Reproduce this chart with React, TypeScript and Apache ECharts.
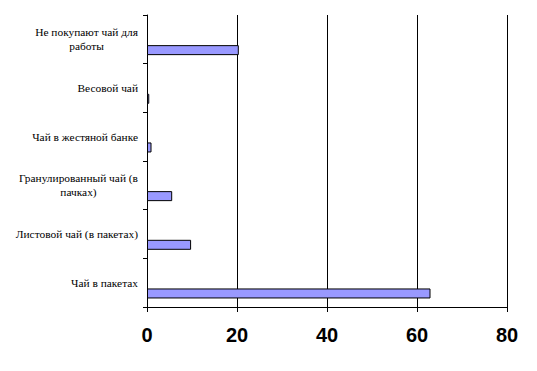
import React, { useEffect, useRef } from "react";
import * as echarts from "echarts";

const categories = [
  "Чай в пакетах",
  "Листовой чай (в пакетах)",
  "Гранулированный чай (в\nпачках)",
  "Чай в жестяной банке",
  "Весовой чай",
  "Не покупают чай для\nработы",
];
const values = [63, 9.8, 5.6, 1, 0.5, 20.4];
const emptyValues = categories.map(() => "-");
const xMin = 0;
const xMax = 80;
const xInterval = 20;

const serif = "Liberation Serif";

export default function App() {
  const ref = useRef<HTMLDivElement>(null);
  useEffect(() => {
    document.body.style.margin = "0";
    if (!ref.current) return;
    const chart = echarts.init(ref.current, undefined, { renderer: "svg" });
    chart.setOption({
      animation: false,
      backgroundColor: "#fff",
      grid: { left: 147, right: 30, top: 15, bottom: 64, containLabel: false },
      xAxis: {
        type: "value",
        min: xMin,
        max: xMax,
        interval: xInterval,
        axisLine: { show: true, lineStyle: { color: "#000", width: 1 } },
        axisTick: { show: true, length: 5, lineStyle: { color: "#000" } },
        splitLine: { show: true, lineStyle: { color: "#000", width: 1 } },
        axisLabel: {
          color: "#000",
          fontFamily: "Liberation Sans",
          fontWeight: "bold",
          fontSize: 20,
          margin: 18,
        },
      },
      yAxis: {
        type: "category",
        data: categories,
        axisLine: { show: true, lineStyle: { color: "#000", width: 1 } },
        axisTick: { show: true, length: 4, lineStyle: { color: "#000" } },
        splitLine: { show: false },
        axisLabel: {
          margin: 9,
          fontFamily: serif,
          fontSize: 11.4,
          lineHeight: 14,
          color: "#000",
          formatter: (v: string) =>
            v
              .split("\n")
              .map((l) => `{a|${l}}`)
              .join("\n"),
          rich: {
            a: {
              align: "center",
              fontFamily: serif,
              fontSize: 11.4,
              lineHeight: 14,
              color: "#000",
            },
          },
        },
      },
      series: [
        {
          type: "bar",
          data: emptyValues,
          barWidth: 10,
          barGap: "116%",
          silent: true,
        },
        {
          type: "bar",
          data: values,
          barWidth: 10,
          barGap: "116%",
          itemStyle: { color: "#9999ff", borderColor: "#000", borderWidth: 1 },
        },
      ],
    });
    return () => chart.dispose();
  }, []);
  return <div ref={ref} style={{ width: 537, height: 371 }} />;
}
